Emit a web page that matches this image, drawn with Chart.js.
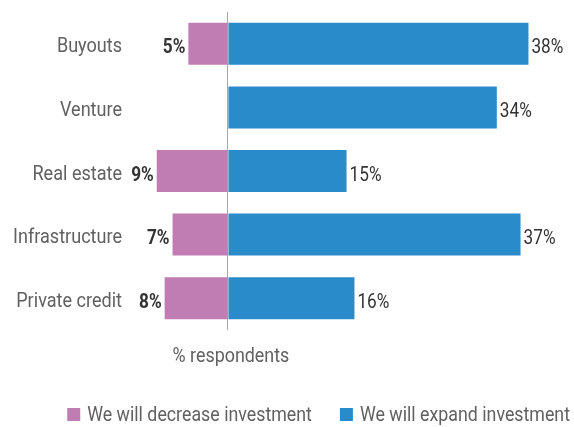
<!DOCTYPE html>
<html>
<head>
<meta charset="utf-8">
<script src="https://cdn.jsdelivr.net/npm/chart.js@4"></script>
<style>
  html, body { margin: 0; padding: 0; background: #fff; }
  #wrap { width: 574px; height: 427px; }
</style>
</head>
<body>
<div id="wrap"><canvas id="myChart"></canvas></div>
<script>
// survey answers, % respondents
var categories = ["Buyouts", "Venture", "Real estate", "Infrastructure", "Private credit"];
var decrease = [5, null, 9, 7, 8];
var expand = [38, 34, 15, 37, 16];
var seriesNames = ["We will decrease investment", "We will expand investment"];
var axisLabel = "% respondents";

var FONT = "Roboto, 'DejaVu Sans', sans-serif";
var SX = 0.86;            // squeeze text horizontally for a condensed look
var PINK = "#c07db3";
var BLUE = "#2a8bca";
var GREY = "#616161";
var DARK = "#333333";

function narrowText(ctx, txt, x, y, size, color, align, bold) {
  ctx.save();
  ctx.font = (bold ? 'bold ' : '') + size + 'px ' + FONT;
  ctx.fillStyle = color;
  ctx.textAlign = align;
  ctx.textBaseline = 'alphabetic';
  ctx.translate(x, y);
  ctx.scale(SX, 1);
  ctx.fillText(txt, 0, 0);
  ctx.restore();
}

function narrowWidth(ctx, txt, size) {
  ctx.save();
  ctx.font = size + 'px ' + FONT;
  var w = ctx.measureText(txt).width * SX;
  ctx.restore();
  return w;
}

// category names, value labels, axis caption and legend
var chartText = {
  id: 'chartText',
  afterDatasetsDraw: function(chart) {
    var ctx = chart.ctx;
    var yScale = chart.scales.y;
    var xScale = chart.scales.x;
    var area = chart.chartArea;

    chart.data.labels.forEach(function(name, i) {
      narrowText(ctx, name, yScale.right - 11, yScale.getPixelForValue(i) + 8.5, 21, GREY, 'right', false);
    });

    chart.data.datasets.forEach(function(ds, i) {
      var meta = chart.getDatasetMeta(i);
      meta.data.forEach(function(bar, j) {
        var v = ds.data[j];
        if (v === null) return;
        var txt = Math.abs(v) + '%';
        if (v < 0) narrowText(ctx, txt, bar.x - 3, bar.y + 9.5, 20, DARK, 'right', true);
        else narrowText(ctx, txt, bar.x + 3, bar.y + 9.5, 20, DARK, 'left', false);
      });
    });

    narrowText(ctx, axisLabel, xScale.getPixelForValue(0) + 3, area.bottom + 31.5, 20.8, GREY, 'center', false);

    // legend, right aligned along the bottom
    var box = 13, gap = 7, between = 28, size = 20.7;
    var items = chart.data.datasets.map(function(ds) {
      return { text: ds.label, color: ds.backgroundColor, w: box + gap + narrowWidth(ctx, ds.label, size) };
    });
    var total = items.reduce(function(s, it) { return s + it.w; }, 0) + between * (items.length - 1);
    var x = chart.width - 4 - total;
    var base = chart.height - 6;
    items.forEach(function(it) {
      ctx.fillStyle = it.color;
      ctx.fillRect(x, base - box, box, box);
      narrowText(ctx, it.text, x + box + gap, base, size, GREY, 'left', false);
      x += it.w + between;
    });
  }
};

var ctx = document.getElementById('myChart').getContext('2d');
var myChart = new Chart(ctx, {
  type: 'bar',
  data: {
    labels: categories,
    datasets: [
      {
        label: seriesNames[0],
        data: decrease.map(function(v) { return v === null ? null : -v; }),
        backgroundColor: PINK,
        barPercentage: 0.66,
        categoryPercentage: 1
      },
      {
        label: seriesNames[1],
        data: expand,
        backgroundColor: BLUE,
        barPercentage: 0.66,
        categoryPercentage: 1
      }
    ]
  },
  options: {
    indexAxis: 'y',
    responsive: true,
    maintainAspectRatio: false,
    animation: false,
    layout: { padding: { top: 12, right: 6, left: 0, bottom: 0 } },
    scales: {
      x: {
        stacked: true,
        min: -12,
        max: 43,
        border: { display: false },
        grid: {
          drawTicks: false,
          lineWidth: 1,
          color: function(c) { return c.tick && c.tick.value === 0 ? '#a6a6a6' : 'rgba(0,0,0,0)'; }
        },
        ticks: { display: false, stepSize: 1 },
        afterFit: function(scale) { scale.height = 97; }
      },
      y: {
        stacked: true,
        border: { display: false },
        grid: { display: false, drawTicks: false },
        ticks: { display: false },
        afterFit: function(scale) { scale.width = 133; }
      }
    },
    plugins: {
      tooltip: { enabled: false },
      legend: { display: false }
    }
  },
  plugins: [chartText]
});
</script>
</body>
</html>
